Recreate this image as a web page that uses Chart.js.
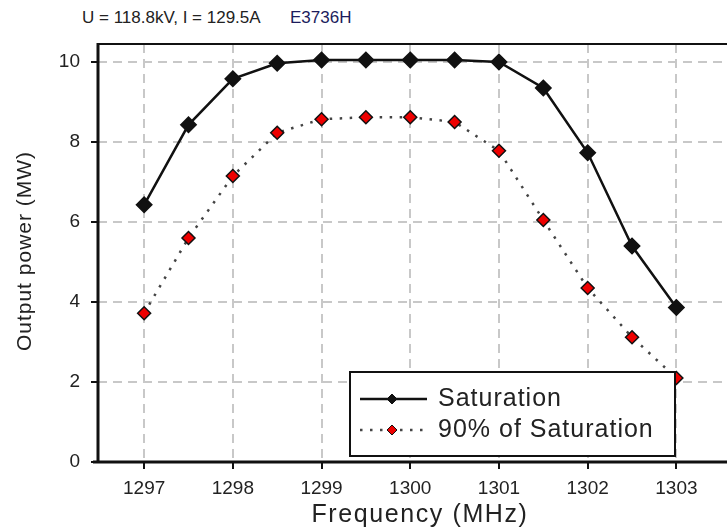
<!DOCTYPE html>
<html lang="en">
<head>
  <meta charset="UTF-8">
  <title>Output power vs frequency</title>
  <script src="https://cdn.jsdelivr.net/npm/chart.js"></script>
  <style>
    body { margin: 0; overflow: hidden; background: #fff; font-family: "Liberation Sans", Arial, sans-serif; }
    #head { position: absolute; left: 82px; top: 8px; font-size: 17px; color: #222; white-space: pre; }
    #head span { position: absolute; left: 208px; top: 0; color: #1c1c5c; }
    #wrap { position: absolute; left: 0; top: 0; width: 740px; height: 530px; }
  </style>
</head>
<body>
  <div id="head">U = 118.8kV, I = 129.5A<span>E3736H</span></div>
  <div id="wrap"><canvas id="powerChart"></canvas></div>

  <script>
    // frequenze [MHz]
    const freq = [1297, 1297.5, 1298, 1298.5, 1299, 1299.5, 1300, 1300.5, 1301, 1301.5, 1302, 1302.5, 1303];
    // potenza in uscita [MW]
    const saturation = [6.43, 8.43, 9.58, 9.97, 10.05, 10.05, 10.05, 10.05, 10.0, 9.35, 7.73, 5.4, 3.86];
    const sat90 = [3.72, 5.6, 7.15, 8.23, 8.57, 8.62, 8.62, 8.5, 7.78, 6.05, 4.35, 3.12, 2.1];
    const xTicks = [1297, 1298, 1299, 1300, 1301, 1302, 1303];
    const yTicks = [0, 2, 4, 6, 8, 10];
    const labels = ["Saturation", "90% of Saturation"];
    const xTitle = "Frequency (MHz)";
    const yTitle = "Output power (MW)";

    const FONT = "'Liberation Sans', Arial, sans-serif";

    // bordo nero dell'area del grafico
    const frame = {
      id: "frame",
      afterDraw(chart) {
        const { ctx, chartArea: a } = chart;
        ctx.save();
        ctx.strokeStyle = "#111";
        ctx.lineWidth = 2;
        ctx.beginPath();
        ctx.moveTo(a.left, a.top);
        ctx.lineTo(a.right, a.top);
        ctx.stroke();
        ctx.lineWidth = 3;
        ctx.beginPath();
        ctx.moveTo(a.left - 5, a.bottom);
        ctx.lineTo(a.right, a.bottom);
        ctx.moveTo(a.left, a.bottom);
        ctx.lineTo(a.left, a.top - 1);
        ctx.stroke();
        ctx.restore();
      }
    };

    // titoli degli assi (con spaziatura lettere)
    const axisTitles = {
      id: "axisTitles",
      afterDraw(chart) {
        const ctx = chart.ctx;
        ctx.save();
        ctx.fillStyle = "#222";
        ctx.textAlign = "center";
        ctx.textBaseline = "middle";
        ctx.font = "25px " + FONT;
        ctx.letterSpacing = "1.6px";
        ctx.fillText(xTitle, 420, 515);
        ctx.font = "21px " + FONT;
        ctx.letterSpacing = "1px";
        ctx.translate(25, 251);
        ctx.rotate(-Math.PI / 2);
        ctx.fillText(yTitle, 0, 0);
        ctx.restore();
      }
    };

    // legenda dentro il grafico
    const boxLegend = {
      id: "boxLegend",
      afterDraw(chart) {
        const ctx = chart.ctx;
        const x = 350, y = 372, w = 325, h = 84;
        ctx.save();
        ctx.fillStyle = "#fff";
        ctx.fillRect(x, y, w, h);
        ctx.strokeStyle = "#111";
        ctx.lineWidth = 2;
        ctx.strokeRect(x, y, w, h);
        chart.data.datasets.forEach((ds, i) => {
          const ly = y + 27 + i * 31;
          ctx.strokeStyle = ds.borderColor;
          ctx.lineWidth = ds.borderWidth;
          ctx.setLineDash(ds.borderDash || []);
          ctx.beginPath();
          ctx.moveTo(x + 10, ly);
          ctx.lineTo(x + 77, ly);
          ctx.stroke();
          ctx.setLineDash([]);
          ctx.fillStyle = ds.pointBackgroundColor;
          ctx.strokeStyle = "#111";
          ctx.lineWidth = 1;
          ctx.beginPath();
          ctx.moveTo(x + 42, ly - 5);
          ctx.lineTo(x + 47, ly);
          ctx.lineTo(x + 42, ly + 5);
          ctx.lineTo(x + 37, ly);
          ctx.closePath();
          ctx.fill();
          ctx.stroke();
          ctx.fillStyle = "#222";
          ctx.font = "25px " + FONT;
          ctx.letterSpacing = "1px";
          ctx.textBaseline = "middle";
          ctx.fillText(labels[i], x + 88, ly);
          ctx.letterSpacing = "0px";
        });
        ctx.restore();
      }
    };

    const gridOpts = {
      color: "#c8c8c8",
      lineWidth: 2,
      tickColor: "#111",
      tickLength: 7,
      tickWidth: 2,
      tickBorderDash: []
    };

    new Chart(document.getElementById("powerChart"), {
      type: "line",
      data: {
        datasets: [
          {
            label: labels[0],
            data: freq.map((f, i) => ({ x: f, y: saturation[i] })),
            borderColor: "#111",
            borderWidth: 2.5,
            pointStyle: "rectRot",
            pointRadius: 7,
            pointBackgroundColor: "#111",
            pointBorderColor: "#111",
            tension: 0
          },
          {
            label: labels[1],
            data: freq.map((f, i) => ({ x: f, y: sat90[i] })),
            borderColor: "#444",
            borderWidth: 2.5,
            borderDash: [2.5, 7.5],
            pointStyle: "rectRot",
            pointRadius: 6.5,
            pointBackgroundColor: "#ee0000",
            pointBorderColor: "#111",
            pointBorderWidth: 1.5,
            tension: 0
          }
        ]
      },
      options: {
        responsive: true,
        maintainAspectRatio: false,
        animation: false,
        layout: { padding: { top: 44, left: 0, right: 0, bottom: 0 } },
        plugins: { legend: { display: false }, tooltip: { enabled: false } },
        scales: {
          x: {
            type: "linear",
            min: 1296.48,
            max: 1303.61,
            afterBuildTicks: s => { s.ticks = xTicks.map(v => ({ value: v })); },
            afterFit: s => { s.height = 68; },
            grid: gridOpts,
            border: { display: false, dash: [9, 6] },
            ticks: { color: "#222", padding: 8, font: { family: "Liberation Sans", size: 19 }, callback: v => String(v) }
          },
          y: {
            min: 0,
            max: 10.45,
            afterBuildTicks: s => { s.ticks = yTicks.map(v => ({ value: v })); },
            afterFit: s => { s.width = 98; },
            grid: gridOpts,
            border: { display: false, dash: [9, 6] },
            ticks: { color: "#222", padding: 11, font: { family: "Liberation Sans", size: 19 } }
          }
        }
      },
      plugins: [frame, axisTitles, boxLegend]
    });
  </script>
</body>
</html>
